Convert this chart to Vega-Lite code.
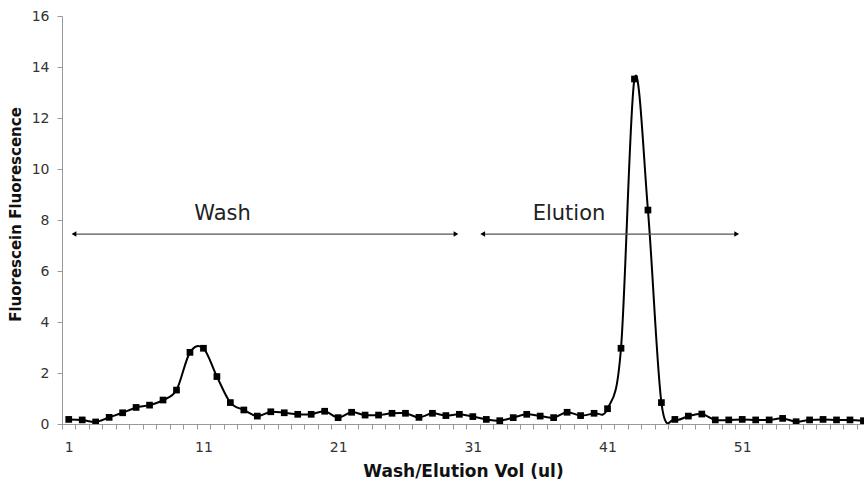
{
  "$schema": "https://vega.github.io/schema/vega-lite/v6.json",
  "autosize": {"type": "none"},
  "padding": {"left": 62, "top": 16, "right": 0, "bottom": 59},
  "width": 802,
  "height": 408,
  "background": "white",
  "config": {
    "view": {"stroke": null},
    "font": "DejaVu Sans",
    "axis": {
      "labelFont": "DejaVu Sans",
      "labelFontSize": 14,
      "labelColor": "#333333",
      "labelOverlap": false,
      "titleFont": "DejaVu Sans",
      "titleFontSize": 15,
      "titleFontWeight": "bold",
      "titleColor": "#111111",
      "domainColor": "#999999",
      "tickColor": "#999999",
      "tickSize": 5,
      "grid": false
    }
  },
  "resolve": {"axis": {"x": "independent"}},
  "datasets": {
    "series": [
      {"vol": 1, "fluor": 0.18}, {"vol": 2, "fluor": 0.16}, {"vol": 3, "fluor": 0.08}, {"vol": 4, "fluor": 0.26},
      {"vol": 5, "fluor": 0.44}, {"vol": 6, "fluor": 0.65}, {"vol": 7, "fluor": 0.74}, {"vol": 8, "fluor": 0.94},
      {"vol": 9, "fluor": 1.33}, {"vol": 10, "fluor": 2.81}, {"vol": 11, "fluor": 2.97}, {"vol": 12, "fluor": 1.86},
      {"vol": 13, "fluor": 0.84}, {"vol": 14, "fluor": 0.55}, {"vol": 15, "fluor": 0.31}, {"vol": 16, "fluor": 0.48},
      {"vol": 17, "fluor": 0.44}, {"vol": 18, "fluor": 0.38}, {"vol": 19, "fluor": 0.38}, {"vol": 20, "fluor": 0.5},
      {"vol": 21, "fluor": 0.25}, {"vol": 22, "fluor": 0.46}, {"vol": 23, "fluor": 0.35}, {"vol": 24, "fluor": 0.35},
      {"vol": 25, "fluor": 0.42}, {"vol": 26, "fluor": 0.42}, {"vol": 27, "fluor": 0.26}, {"vol": 28, "fluor": 0.42},
      {"vol": 29, "fluor": 0.33}, {"vol": 30, "fluor": 0.38}, {"vol": 31, "fluor": 0.29}, {"vol": 32, "fluor": 0.18},
      {"vol": 33, "fluor": 0.13}, {"vol": 34, "fluor": 0.25}, {"vol": 35, "fluor": 0.38}, {"vol": 36, "fluor": 0.31},
      {"vol": 37, "fluor": 0.25}, {"vol": 38, "fluor": 0.46}, {"vol": 39, "fluor": 0.33}, {"vol": 40, "fluor": 0.42},
      {"vol": 41, "fluor": 0.6}, {"vol": 42, "fluor": 2.97}, {"vol": 43, "fluor": 13.53}, {"vol": 44, "fluor": 8.39},
      {"vol": 45, "fluor": 0.84}, {"vol": 46, "fluor": 0.18}, {"vol": 47, "fluor": 0.31}, {"vol": 48, "fluor": 0.39},
      {"vol": 49, "fluor": 0.16}, {"vol": 50, "fluor": 0.16}, {"vol": 51, "fluor": 0.18}, {"vol": 52, "fluor": 0.16},
      {"vol": 53, "fluor": 0.16}, {"vol": 54, "fluor": 0.22}, {"vol": 55, "fluor": 0.09}, {"vol": 56, "fluor": 0.16},
      {"vol": 57, "fluor": 0.18}, {"vol": 58, "fluor": 0.16}, {"vol": 59, "fluor": 0.16}, {"vol": 60, "fluor": 0.13}
    ],
    "notes": [
      {"label": "Wash", "start": 1.39, "end": 29.75, "level": 7.45, "textVol": 12.42, "textLevel": 8.22},
      {"label": "Elution", "start": 31.73, "end": 50.59, "level": 7.45, "textVol": 38.14, "textLevel": 8.22}
    ]
  },
  "layer": [
    {
      "data": {"name": "series"},
      "mark": {"type": "line", "interpolate": "cardinal", "color": "black", "strokeWidth": 2, "clip": true},
      "encoding": {
        "x": {
          "field": "vol", "type": "quantitative",
          "scale": {"domain": [0.5, 60.04], "nice": false, "zero": false},
          "axis": {
            "orient": "bottom",
            "title": null,
            "values": [0.5,1.5,2.5,3.5,4.5,5.5,6.5,7.5,8.5,9.5,10.5,11.5,12.5,13.5,14.5,15.5,16.5,17.5,18.5,19.5,20.5,21.5,22.5,23.5,24.5,25.5,26.5,27.5,28.5,29.5,30.5,31.5,32.5,33.5,34.5,35.5,36.5,37.5,38.5,39.5,40.5,41.5,42.5,43.5,44.5,45.5,46.5,47.5,48.5,49.5,50.5,51.5,52.5,53.5,54.5,55.5,56.5,57.5,58.5,59.5],
            "labels": false,
            "ticks": true,
            "domain": true
          }
        },
        "y": {
          "field": "fluor", "type": "quantitative",
          "scale": {"domain": [0, 16], "nice": false},
          "axis": {
            "title": "Fluorescein Fluorescence",
            "values": [0, 2, 4, 6, 8, 10, 12, 14, 16],
            "labelPadding": 8,
            "titlePadding": 8,
            "titleY": 198
          }
        }
      }
    },
    {
      "data": {"name": "series"},
      "mark": {"type": "point", "shape": "square", "filled": true, "color": "black", "size": 45, "opacity": 1, "clip": true},
      "encoding": {
        "x": {
          "field": "vol", "type": "quantitative",
          "axis": {
            "orient": "bottom",
            "title": "Wash/Elution Vol (ul)",
            "titleFontSize": 17,
            "values": [0.5, 10.5, 20.5, 30.5, 40.5, 50.5],
            "labelExpr": "format(datum.value + 0.5, 'd')",
            "labelOffset": 6.73,
            "labelFlush": false,
            "labelPadding": 16,
            "ticks": false,
            "domain": false,
            "titlePadding": 9
          }
        },
        "y": {"field": "fluor", "type": "quantitative", "title": "Fluorescein Fluorescence"}
      }
    },
    {
      "mark": {"type": "rule", "color": "#777777", "strokeWidth": 1.5},
      "encoding": {"y": {"datum": 16}}
    },
    {
      "data": {"name": "notes"},
      "mark": {"type": "rule", "color": "#555555", "strokeWidth": 1.2},
      "encoding": {
        "x": {"field": "start", "type": "quantitative", "axis": null},
        "x2": {"field": "end"},
        "y": {"field": "level", "type": "quantitative"}
      }
    },
    {
      "data": {"name": "notes"},
      "mark": {"type": "point", "shape": "triangle-left", "filled": true, "color": "black", "size": 30, "opacity": 1},
      "encoding": {
        "x": {"field": "start", "type": "quantitative", "axis": null},
        "y": {"field": "level", "type": "quantitative"}
      }
    },
    {
      "data": {"name": "notes"},
      "mark": {"type": "point", "shape": "triangle-right", "filled": true, "color": "black", "size": 30, "opacity": 1},
      "encoding": {
        "x": {"field": "end", "type": "quantitative", "axis": null},
        "y": {"field": "level", "type": "quantitative"}
      }
    },
    {
      "data": {"name": "notes"},
      "mark": {"type": "text", "font": "DejaVu Sans", "fontSize": 21, "color": "#222222", "align": "center", "baseline": "middle"},
      "encoding": {
        "x": {"field": "textVol", "type": "quantitative", "axis": null},
        "y": {"field": "textLevel", "type": "quantitative"},
        "text": {"field": "label"}
      }
    }
  ]
}
